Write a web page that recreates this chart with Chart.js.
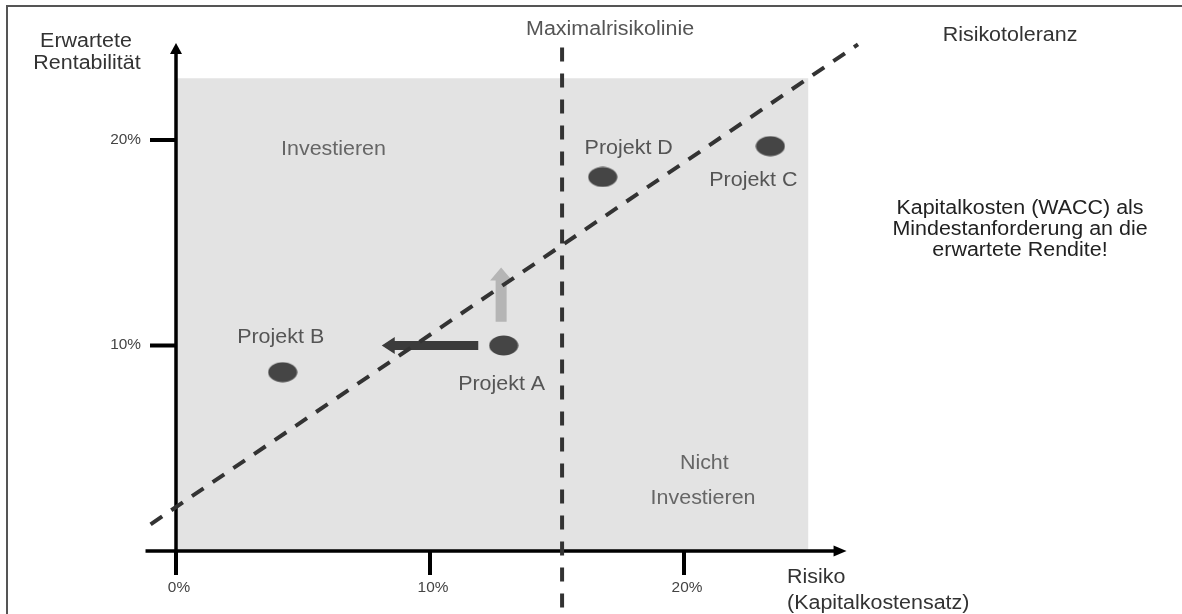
<!DOCTYPE html>
<html>
<head>
<meta charset="utf-8">
<script src="https://cdn.jsdelivr.net/npm/chart.js@4.4.1/dist/chart.umd.min.js"></script>
<style>
  html, body { margin: 0; padding: 0; background: #fff; }
  #wrap { position: relative; width: 1182px; height: 614px; overflow: hidden; }
  #frame { position: absolute; left: 6px; top: 5px; right: 0; bottom: 0;
           border-top: 2px solid #555; border-left: 2px solid #555; pointer-events: none; }
</style>
</head>
<body>
<div id="wrap">
  <canvas id="c" width="1182" height="614"></canvas>
  <div id="frame"></div>
</div>
<script>
// Projects: risk (cost of capital, %) vs. expected return (%)
const projectNames = ['Projekt A', 'Projekt B', 'Projekt C', 'Projekt D'];
const projectRisk = [12.9, 4.2, 23.4, 16.8];
const projectReturn = [10.0, 8.7, 19.7, 18.2];

// Risk tolerance line (WACC as minimum return), endpoints
const toleranceRisk = [-1.0, 26.85];
const toleranceReturn = [1.3, 24.65];

// Maximum risk line
const maxRiskValue = 15.2;
const maxRiskSpan = [-2.75, 24.75];

// Shaded decision zone
const zoneRisk = [0, 24.9];
const zoneReturn = [23.0, 23.0];

// Improvement arrows for Projekt A: [risk, return] start and end
const arrowStart = [[11.9, 10.0], [12.8, 11.15]];
const arrowEnd = [[8.1, 10.0], [12.8, 13.8]];

// Axis ticks
const xTicks = [0, 10, 20];
const yTicks = [10, 20];

const FONT = '"Liberation Sans", Arial, "DejaVu Sans", sans-serif';

// Ellipse marker for the projects
function ellipseMarker(w, h, color) {
  const cv = document.createElement('canvas');
  cv.width = w; cv.height = h;
  const c = cv.getContext('2d');
  c.fillStyle = color;
  c.beginPath();
  c.ellipse(w / 2, h / 2, w / 2 - 0.5, h / 2 - 0.5, 0, 0, Math.PI * 2);
  c.fill();
  return cv;
}

function label(ctx, text, x, y, size, color, align) {
  ctx.save();
  ctx.font = size + 'px ' + FONT;
  ctx.fillStyle = color;
  ctx.textAlign = align || 'center';
  ctx.textBaseline = 'middle';
  ctx.translate(x, y);
  ctx.scale(1.1, 1);
  ctx.fillText(text, 0, 0);
  ctx.restore();
}

function blockArrow(ctx, x1, y1, x2, y2, shaftW, headW, headL, color) {
  const dx = x2 - x1, dy = y2 - y1;
  const len = Math.hypot(dx, dy);
  const ux = dx / len, uy = dy / len;
  const nx = -uy, ny = ux;
  const bx = x2 - ux * headL, by = y2 - uy * headL;
  ctx.save();
  ctx.fillStyle = color;
  ctx.beginPath();
  ctx.moveTo(x1 + nx * shaftW / 2, y1 + ny * shaftW / 2);
  ctx.lineTo(bx + nx * shaftW / 2, by + ny * shaftW / 2);
  ctx.lineTo(bx + nx * headW / 2, by + ny * headW / 2);
  ctx.lineTo(x2, y2);
  ctx.lineTo(bx - nx * headW / 2, by - ny * headW / 2);
  ctx.lineTo(bx - nx * shaftW / 2, by - ny * shaftW / 2);
  ctx.lineTo(x1 - nx * shaftW / 2, y1 - ny * shaftW / 2);
  ctx.closePath();
  ctx.fill();
  ctx.restore();
}

const diagramPlugin = {
  id: 'diagram',
  // axes and arrows sit right above the shaded zone, below the dashed lines
  afterDatasetDraw(chart, args) {
    if (args.index !== 0) return;
    const ctx = chart.ctx;
    const xs = chart.scales.x, ys = chart.scales.y;
    const X = v => xs.getPixelForValue(v), Y = v => ys.getPixelForValue(v);

    // arrows
    const arrowStyle = [
      { shaft: 9, head: 17, len: 13, color: '#3b3b3b' },
      { shaft: 11, head: 22, len: 13, color: '#b5b5b5' }
    ];
    arrowStart.forEach((s, i) => {
      const st = arrowStyle[i];
      blockArrow(ctx, X(s[0]), Y(s[1]), X(arrowEnd[i][0]), Y(arrowEnd[i][1]),
                 st.shaft, st.head, st.len, st.color);
    });

    // axes
    const x0 = X(0), y0 = Y(0);
    const xTip = X(26.4), yTip = Y(24.72);
    ctx.save();
    ctx.strokeStyle = '#000';
    ctx.fillStyle = '#000';
    ctx.lineWidth = 3.5;
    ctx.lineCap = 'butt';
    ctx.beginPath();
    ctx.moveTo(X(-1.2), y0); ctx.lineTo(xTip - 12, y0);
    ctx.moveTo(x0, y0); ctx.lineTo(x0, yTip + 10);
    ctx.stroke();
    ctx.beginPath();
    ctx.moveTo(xTip, y0); ctx.lineTo(xTip - 13, y0 - 5.5); ctx.lineTo(xTip - 13, y0 + 5.5);
    ctx.closePath(); ctx.fill();
    ctx.beginPath();
    ctx.moveTo(x0, yTip); ctx.lineTo(x0 - 6, yTip + 11); ctx.lineTo(x0 + 6, yTip + 11);
    ctx.closePath(); ctx.fill();

    // ticks
    ctx.lineWidth = 4;
    ctx.beginPath();
    xTicks.forEach(v => { ctx.moveTo(X(v), y0); ctx.lineTo(X(v), y0 + 24); });
    yTicks.forEach(v => { ctx.moveTo(x0 - 26, Y(v)); ctx.lineTo(x0, Y(v)); });
    ctx.stroke();
    ctx.restore();

    xTicks.forEach(v => label(ctx, v + '%', X(v) + 3, y0 + 37, 14, '#444', 'center'));
    yTicks.forEach(v => label(ctx, v + '%', x0 - 35, Y(v), 14, '#444', 'right'));
  },
  afterDatasetsDraw(chart) {
    const ctx = chart.ctx;
    const xs = chart.scales.x, ys = chart.scales.y;
    const X = v => xs.getPixelForValue(v), Y = v => ys.getPixelForValue(v);
    const S = 19.5;

    // project labels, placed around their markers
    const offsets = [[-2, 39], [-2, -35], [-17, 34], [26, -28]];
    projectNames.forEach((n, i) => {
      label(ctx, n, X(projectRisk[i]) + offsets[i][0], Y(projectReturn[i]) + offsets[i][1], S, '#555');
    });

    // zone captions
    label(ctx, 'Investieren', X(6.2), Y(19.55), S, '#666');
    label(ctx, 'Nicht', X(20.8), Y(4.25), S, '#666');
    label(ctx, 'Investieren', X(20.75), Y(2.55), S, '#666');

    // axis titles
    label(ctx, 'Erwartete', 86, 42, S, '#333');
    label(ctx, 'Rentabilität', 87, 64, S, '#333');
    label(ctx, 'Risiko', 787, 578, S, '#333', 'left');
    label(ctx, '(Kapitalkostensatz)', 787, 604, S, '#333', 'left');

    // line captions and note
    label(ctx, 'Maximalrisikolinie', X(maxRiskValue) + 48, 30, S, '#555');
    label(ctx, 'Risikotoleranz', 1010, 36, S, '#333');
    label(ctx, 'Kapitalkosten (WACC) als', 1020, 209, S, '#222');
    label(ctx, 'Mindestanforderung an die', 1020, 230, S, '#222');
    label(ctx, 'erwartete Rendite!', 1020, 251, S, '#222');
  }
};

const pts = (xa, ya) => xa.map((x, i) => ({ x: x, y: ya[i] }));

new Chart(document.getElementById('c'), {
  type: 'scatter',
  data: {
    datasets: [
      {
        type: 'line',
        data: pts(zoneRisk, zoneReturn),
        fill: 'origin',
        backgroundColor: '#e3e3e3',
        borderWidth: 0,
        pointRadius: 0,
        order: 3
      },
      {
        type: 'line',
        data: pts(toleranceRisk, toleranceReturn),
        borderColor: '#333',
        borderWidth: 4,
        borderDash: [14, 11],
        pointRadius: 0,
        fill: false,
        clip: false,
        order: 2
      },
      {
        type: 'line',
        data: pts([maxRiskValue, maxRiskValue], maxRiskSpan),
        borderColor: '#333',
        borderWidth: 4,
        borderDash: [14, 12],
        pointRadius: 0,
        fill: false,
        clip: false,
        order: 2
      },
      {
        data: pts(projectRisk, projectReturn),
        pointStyle: ellipseMarker(30, 21, '#454545'),
        pointRadius: 11,
        clip: false,
        order: 0
      }
    ]
  },
  options: {
    responsive: false,
    animation: false,
    events: [],
    devicePixelRatio: 1,
    layout: {
      autoPadding: false,
      padding: { left: 145.52, right: 320.2, top: 37.25, bottom: 5.46 }
    },
    plugins: { legend: { display: false }, tooltip: { enabled: false } },
    scales: {
      x: { type: 'linear', min: -1.2, max: 27, display: false },
      y: { type: 'linear', min: -2.8, max: 25, display: false }
    }
  },
  plugins: [diagramPlugin]
});
</script>
</body>
</html>
